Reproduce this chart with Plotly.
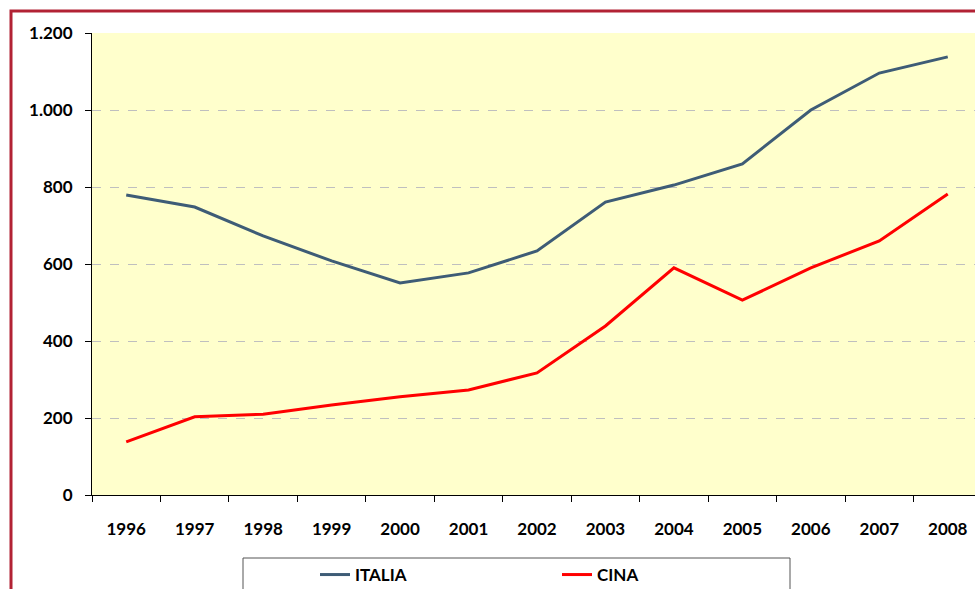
import plotly.graph_objects as go

years = ["1996", "1997", "1998", "1999", "2000", "2001", "2002",
         "2003", "2004", "2005", "2006", "2007", "2008"]
italia = [779, 748, 673, 608, 551, 577, 634, 761, 805, 860, 1000, 1096, 1138]
cina = [138, 203, 210, 234, 255, 273, 317, 439, 590, 506, 590, 660, 782]
y_ticks = [0, 200, 400, 600, 800, 1000, 1200]

FONT = "Lato"
W, H = 975, 589
ML, MT, MR, MB = 92, 33, 0, 94
PW = W - ML - MR
PH = H - MT - MB
CAT_PX = 68.46  # pixel width of one category in the reference
x_max = -0.5 + PW / CAT_PX

def px_x(x):
    return (x - ML) / PW

def px_y(y):
    return (H - MB - y) / PH

fig = go.Figure()
fig.add_trace(go.Scatter(x=years, y=italia, mode="lines", name="ITALIA",
                         line=dict(color="#3E5C76", width=3)))
fig.add_trace(go.Scatter(x=years, y=cina, mode="lines", name="CINA",
                         line=dict(color="#FF0000", width=3)))

tf = dict(family=FONT, size=17, color="black", weight="bold")

fig.update_layout(
    width=W, height=H,
    margin=dict(l=ML, r=MR, t=MT, b=MB, autoexpand=False),
    paper_bgcolor="white",
    plot_bgcolor="#FFFFCC",
    separators=",.",
    font=dict(family=FONT, size=17, color="black"),
    showlegend=True,
    legend=dict(orientation="h", x=px_x(315), xanchor="left",
                y=px_y(557), yanchor="top", bgcolor="rgba(0,0,0,0)",
                entrywidth=197, entrywidthmode="pixels",
                font=tf, itemwidth=30, tracegroupgap=0),
    xaxis=dict(type="category", tickson="boundaries", ticks="outside",
               ticklen=6, tickcolor="black", showline=True, linecolor="black",
               linewidth=1, showgrid=False, range=[-0.5, x_max],
               ticklabelstandoff=19, tickfont=tf),
    yaxis=dict(range=[0, 1200], tickvals=y_ticks, tickformat=",",
               ticks="outside", ticklen=6, tickcolor="black",
               showline=True, linecolor="black", linewidth=1,
               showgrid=True, gridcolor="#BFBFBF", griddash="dash", gridwidth=1,
               zeroline=False, ticklabelstandoff=9, tickfont=tf),
    shapes=[
        dict(type="rect", xref="paper", yref="paper",
             x0=px_x(11), x1=px_x(1100), y0=px_y(700), y1=px_y(11),
             line=dict(color="#B22234", width=3), fillcolor="rgba(0,0,0,0)",
             layer="above"),
        dict(type="rect", xref="paper", yref="paper",
             x0=px_x(243), x1=px_x(790), y0=px_y(700), y1=px_y(558),
             line=dict(color="#555555", width=1), fillcolor="rgba(0,0,0,0)"),
    ],
)

fig.write_html(
    "out.html",
    config={"displayModeBar": False},
    post_script="document.body.style.margin='0';"
                "document.body.style.overflow='hidden';",
)
